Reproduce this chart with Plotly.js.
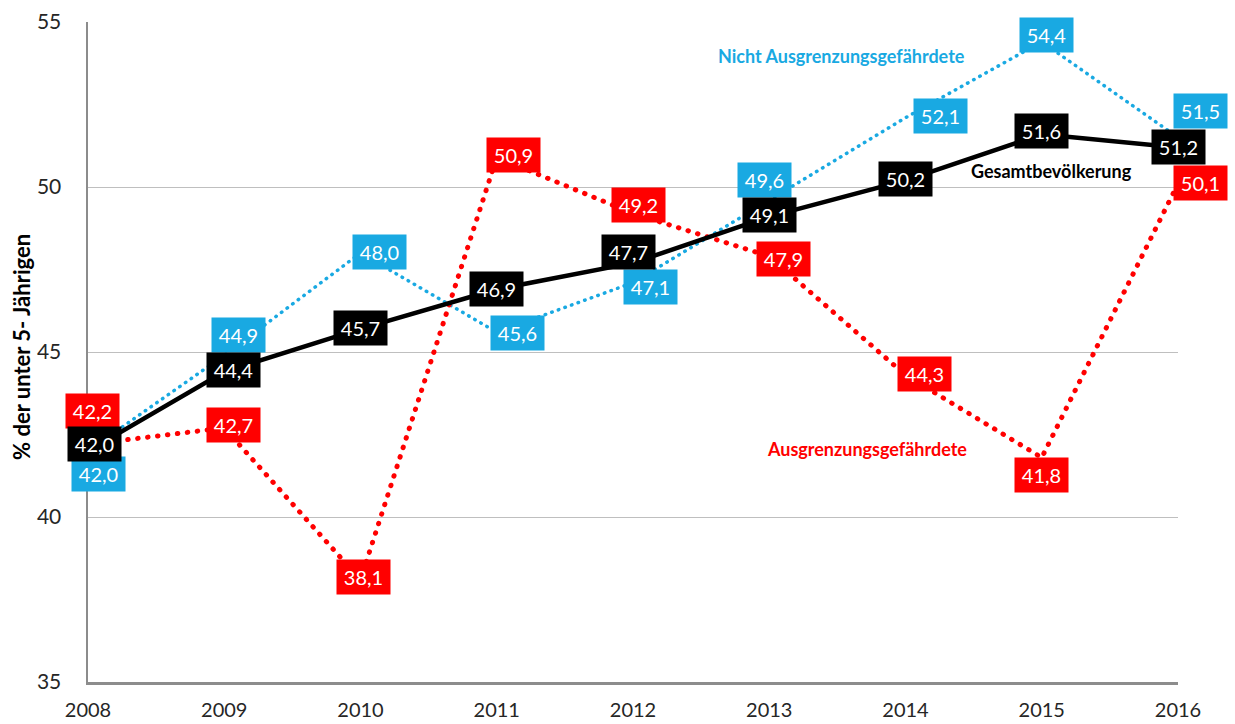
<!DOCTYPE html>
<html>
<head>
<meta charset="utf-8">
<script src="https://cdn.plot.ly/plotly-3.0.1.min.js"></script>
<style>
html,body{margin:0;padding:0;background:#fff;}
#chart{width:1235px;height:724px;}
.scatterlayer path.js-line{stroke-linecap:round !important;}
</style>
</head>
<body>
<div id="chart"></div>
<script>
// ---- data ----
const years = [2008, 2009, 2010, 2011, 2012, 2013, 2014, 2015, 2016];
const gesamt = [42.0, 44.4, 45.7, 46.9, 47.7, 49.1, 50.2, 51.6, 51.2];
const nichtAusgr = [42.0, 44.9, 48.0, 45.6, 47.1, 49.6, 52.1, 54.4, 51.5];
const ausgr = [42.2, 42.7, 38.1, 50.9, 49.2, 47.9, 44.3, 41.8, 50.1];
const yTicks = [35, 40, 45, 50, 55];
const seriesNames = ['Gesamtbevölkerung', 'Nicht Ausgrenzungsgefährdete', 'Ausgrenzungsgefährdete'];
const yTitle = '% der unter 5- Jährigen';

// label pixel offsets (dx right, dy down)
const offBlue = [[10,23],[14,-20],[19,-1],[21,1],[17,4],[-5,-20],[35,-2],[5,-7],[22,-27]];
const offRed = [[4,-33],[9,-3],[3,-3],[17,-2],[5,-8],[14,3],[19,-1],[0,17],[22,-1]];
const offBlack = [[6,-7],[9,-2],[0,-1],[0,0],[-5,-11],[0,-2],[0,-1],[0,-3],[0,0]];

const BLUE = '#19A9E2', RED = '#FF0000', BLACK = '#000000';
const FONT = 'Lato, "Open Sans", sans-serif';

const fmt = v => v.toFixed(1).replace('.', ',');

const traces = [
  {x: years, y: nichtAusgr, name: seriesNames[1], mode: 'lines',
   line: {color: BLUE, width: 3.5, dash: '0.5px,6.5px'}},
  {x: years, y: ausgr, name: seriesNames[2], mode: 'lines',
   line: {color: RED, width: 5, dash: '0.5px,9.5px'}},
  {x: years, y: gesamt, name: seriesNames[0], mode: 'lines',
   line: {color: BLACK, width: 4.5}}
];

const annotations = [];
function addLabels(vals, offs, bg) {
  vals.forEach((v, i) => {
    annotations.push({
      x: years[i], y: v, xref: 'x', yref: 'y',
      text: fmt(v), showarrow: false,
      xshift: offs[i][0], yshift: -offs[i][1],
      bgcolor: bg, width: 53, height: 34, borderpad: 0,
      font: {family: FONT, size: 20, color: '#ffffff'},
      xanchor: 'center', yanchor: 'middle', align: 'center', valign: 'middle'
    });
  });
}
addLabels(nichtAusgr, offBlue, BLUE);
addLabels(ausgr, offRed, RED);
addLabels(gesamt, offBlack, BLACK);

annotations.push(
  {x: 2013.53, y: 53.97, xref: 'x', yref: 'y', text: '<b>' + seriesNames[1] + '</b>', showarrow: false,
   font: {family: FONT, size: 18, color: BLUE}, xanchor: 'center', yanchor: 'middle'},
  {x: 2015.075, y: 50.48, xref: 'x', yref: 'y', text: '<b>' + seriesNames[0] + '</b>', showarrow: false,
   font: {family: FONT, size: 18, color: BLACK}, xanchor: 'center', yanchor: 'middle'},
  {x: 2013.72, y: 42.06, xref: 'x', yref: 'y', text: '<b>' + seriesNames[2] + '</b>', showarrow: false,
   font: {family: FONT, size: 18, color: RED}, xanchor: 'center', yanchor: 'middle'},
  {x: -0.0606, y: 0.5076, xref: 'paper', yref: 'paper', text: '<b>' + yTitle + '</b>', showarrow: false,
   textangle: -90, font: {family: FONT, size: 22, color: BLACK}, xanchor: 'center', yanchor: 'middle'}
);

const layout = {
  width: 1235, height: 724,
  margin: {l: 88, r: 57, t: 22, b: 42, pad: 0},
  paper_bgcolor: '#ffffff', plot_bgcolor: '#ffffff',
  showlegend: false,
  font: {family: FONT, color: '#262626'},
  xaxis: {
    range: [2008, 2016], tickvals: years, ticktext: years.map(String),
    showgrid: false, zeroline: false, showline: true, linecolor: '#8c8c8c', linewidth: 2.5,
    ticks: '', ticklabelstandoff: 8, tickfont: {family: FONT, size: 20, color: '#262626'},
    fixedrange: true
  },
  yaxis: {
    range: [35, 55], tickvals: yTicks, ticktext: yTicks.map(String),
    showgrid: true, gridcolor: '#bfbfbf', gridwidth: 1,
    zeroline: false, showline: true, linecolor: '#8c8c8c', linewidth: 2.5,
    ticks: '', ticklabelstandoff: 20, tickfont: {family: FONT, size: 21, color: '#262626'},
    fixedrange: true
  },
  annotations: annotations
};

Plotly.newPlot('chart', traces, layout, {displayModeBar: false, staticPlot: true});
</script>
</body>
</html>
